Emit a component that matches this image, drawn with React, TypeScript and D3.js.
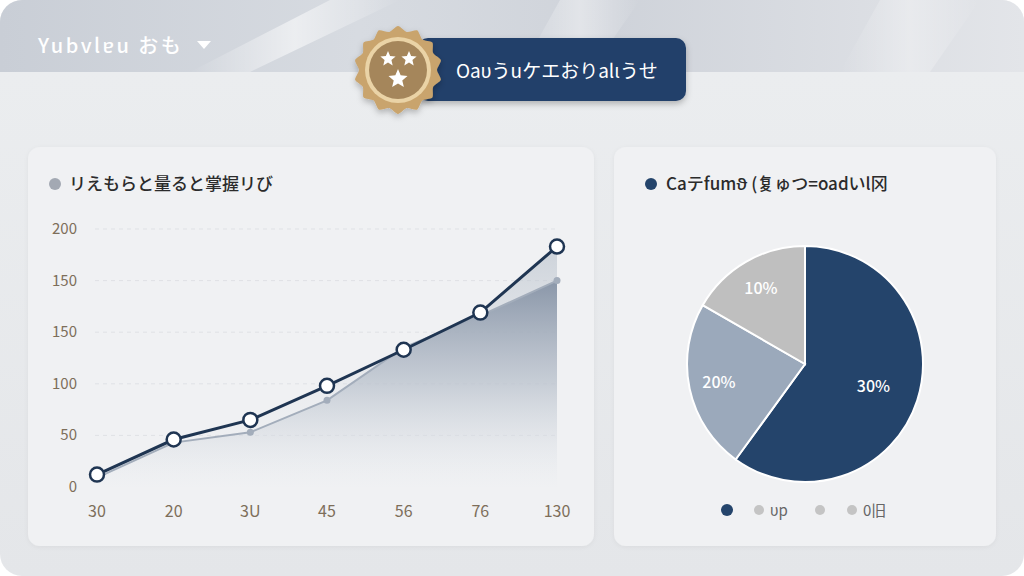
import React from "react";
import * as d3 from "d3";

const xLabels = ["30", "20", "3U", "45", "56", "76", "130"];
const mainValues = [12, 46, 65, 98, 133, 169, 233];
const areaValues = [9, 43, 53, 84, 135, 166, 200];
const yTicks = [0, 50, 100, 150, 200, 250];
const yTickLabels = ["0", "50", "100", "150", "150", "200"];
const pieValues = [60, 23.3, 16.7];
const pieLabels = ["30%", "20%", "10%"];
const pieColors = ["#24446b", "#9ba9bb", "#bfbfbf"];
const legendLabels = ["", "υp", "", "0旧"];
const legendColors = ["#24446b", "#c4c4c4", "#c4c4c4", "#c4c4c4"];

const FONT = "'Noto Sans CJK JP', 'Noto Sans', sans-serif";

function starPath(cx: number, cy: number, r: number) {
  const pts: [number, number][] = [];
  for (let i = 0; i < 10; i++) {
    const rr = i % 2 === 0 ? r : r * 0.45;
    const a = (Math.PI / 5) * i - Math.PI / 2;
    pts.push([cx + rr * Math.cos(a), cy + rr * Math.sin(a)]);
  }
  return "M" + pts.map((p) => p.join(",")).join("L") + "Z";
}

function sealPath(cx: number, cy: number, r1: number, r2: number, n: number) {
  const pts: [number, number][] = [];
  for (let i = 0; i < n * 2; i++) {
    const rr = i % 2 === 0 ? r1 : r2;
    const a = (Math.PI / n) * i - Math.PI / 2;
    pts.push([cx + rr * Math.cos(a), cy + rr * Math.sin(a)]);
  }
  return d3.line().curve(d3.curveCardinalClosed.tension(0.3))(pts) || "";
}

export default function App() {
  const x = d3.scalePoint<number>().domain(d3.range(xLabels.length)).range([97, 557]);
  const y = d3.scaleLinear().domain([0, 250]).range([487, 229]);

  const line = d3.line<number>().x((_, i) => x(i) as number).y((d) => y(d));
  const area = d3
    .area<number>()
    .x((_, i) => x(i) as number)
    .y0(y(0))
    .y1((d) => y(d));

  const cx = 805, cy = 364, R = 118;
  const pie = d3.pie<number>().sort(null).value((d) => d)(pieValues);
  const arc = d3.arc<d3.PieArcDatum<number>>().innerRadius(0).outerRadius(R);

  return (
    <svg width={1024} height={576} style={{ position: "absolute", left: 0, top: 0 }}>
      <defs>
        <linearGradient id="hdr" x1="0" y1="0" x2="1" y2="0">
          <stop offset="0" stopColor="#c9ced6" />
          <stop offset="0.35" stopColor="#d7dbe1" />
          <stop offset="0.6" stopColor="#cfd3da" />
          <stop offset="1" stopColor="#e3e5e9" />
        </linearGradient>
        <linearGradient id="body" x1="0" y1="0" x2="0" y2="1">
          <stop offset="0" stopColor="#eceef0" />
          <stop offset="1" stopColor="#e4e6e9" />
        </linearGradient>
        <linearGradient id="areaG" x1="0" y1="0" x2="0" y2="1">
          <stop offset="0" stopColor="#8693a6" stopOpacity="0.95" />
          <stop offset="0.5" stopColor="#b9c1cc" stopOpacity="0.7" />
          <stop offset="1" stopColor="#eef0f3" stopOpacity="0.2" />
        </linearGradient>
        <linearGradient id="areaG2" x1="0" y1="0" x2="0" y2="1">
          <stop offset="0" stopColor="#b5bec9" stopOpacity="0.6" />
          <stop offset="1" stopColor="#eef0f3" stopOpacity="0" />
        </linearGradient>
        <linearGradient id="streak" x1="0" y1="0" x2="1" y2="0">
          <stop offset="0" stopColor="#ffffff" stopOpacity="0" />
          <stop offset="0.5" stopColor="#ffffff" stopOpacity="0.55" />
          <stop offset="1" stopColor="#ffffff" stopOpacity="0" />
        </linearGradient>
        <filter id="sh" x="-20%" y="-20%" width="140%" height="160%">
          <feDropShadow dx="0" dy="3" stdDeviation="3" floodColor="#000" floodOpacity="0.25" />
        </filter>
        <filter id="soft" x="-10%" y="-10%" width="120%" height="120%">
          <feDropShadow dx="0" dy="1" stdDeviation="2" floodColor="#000" floodOpacity="0.05" />
        </filter>
        <clipPath id="card">
          <rect x={0} y={0} width={1024} height={576} rx={22} />
        </clipPath>
      </defs>

      <rect x={0} y={0} width={1024} height={576} fill="#ffffff" />
      <g clipPath="url(#card)">
        <rect x={0} y={0} width={1024} height={576} fill="url(#body)" />
        <rect x={0} y={0} width={1024} height={72} fill="url(#hdr)" />
        <polygon points="330,0 400,0 250,72 190,72" fill="url(#streak)" />
        <polygon points="560,0 640,0 590,72 520,72" fill="url(#streak)" opacity={0.7} />
        <polygon points="880,0 980,0 930,72 840,72" fill="url(#streak)" opacity={0.6} />
      </g>

      <text
        x={38}
        y={53}
        fill="#ffffff"
        fontFamily={FONT}
        fontSize={20}
        fontWeight={500}
        letterSpacing={2.5}
      >
        Yubvlɐu おも
      </text>
      <path d="M197,41 L211,41 L204,49 Z" fill="#ffffff" />

      {/* pill */}
      <rect x={418} y={38} width={268} height={63} rx={10} fill="#22406a" filter="url(#sh)" />
      <text x={456} y={78} fill="#ffffff" fontFamily={FONT} fontSize={19}>
        Oaυうuケエおりalιうせ
      </text>
      {/* badge */}
      <g filter="url(#sh)">
        <path d={sealPath(398, 70, 44, 39, 14)} fill="#c9a46d" />
      </g>
      <circle cx={398} cy={70} r={33} fill="#ead3a6" />
      <circle cx={398} cy={70} r={29} fill="#a5865b" />
      <path d={starPath(388, 59, 8)} fill="#ffffff" />
      <path d={starPath(409, 59, 8)} fill="#ffffff" />
      <path d={starPath(398, 79, 10)} fill="#ffffff" />

      {/* left panel */}
      <rect x={28} y={147} width={566} height={399} rx={12} fill="#f0f1f3" filter="url(#soft)" />
      <circle cx={55} cy={184} r={6} fill="#a3a9b3" />
      <text x={69} y={190} fill="#2b2b2b" fontFamily={FONT} fontSize={17} fontWeight={500}>
        リえもらと量ると掌握リび
      </text>

      {yTicks.map((t, i) => (
        <g key={"y" + i}>
          {i > 0 && (
            <line x1={95} x2={557} y1={y(t)} y2={y(t)} stroke="#dfe1e5" strokeDasharray="4,4" />
          )}
          <text
            x={77}
            y={y(t) + 5}
            textAnchor="end"
            fill="#7d6e5a"
            fontFamily={FONT}
            fontSize={15}
          >
            {yTickLabels[i]}
          </text>
        </g>
      ))}
      {xLabels.map((l, i) => (
        <text
          key={"x" + i}
          x={x(i) as number}
          y={517}
          textAnchor="middle"
          fill="#7d6e5a"
          fontFamily={FONT}
          fontSize={16}
        >
          {l}
        </text>
      ))}

      <path d={area(mainValues) || ""} fill="url(#areaG2)" />
      <path d={area(areaValues) || ""} fill="url(#areaG)" />
      <path d={line(areaValues) || ""} fill="none" stroke="#a3adbb" strokeWidth={2} />
      {areaValues.map((v, i) => (
        <circle key={"a" + i} cx={x(i) as number} cy={y(v)} r={3.5} fill="#a3adbb" />
      ))}
      <path d={line(mainValues) || ""} fill="none" stroke="#1f3552" strokeWidth={3} />
      {mainValues.map((v, i) => (
        <circle
          key={"m" + i}
          cx={x(i) as number}
          cy={y(v)}
          r={7}
          fill="#ffffff"
          stroke="#1f3552"
          strokeWidth={2.5}
        />
      ))}

      {/* right panel */}
      <rect x={614} y={147} width={382} height={399} rx={12} fill="#f0f1f3" filter="url(#soft)" />
      <circle cx={651} cy={184} r={6} fill="#24446b" />
      <text x={666} y={190} fill="#2b2b2b" fontFamily={FONT} fontSize={17} fontWeight={500}>
        Caテfumϑ (复ゅつ=oadいl冈
      </text>

      <g transform={`translate(${cx},${cy})`}>
        {pie.map((p, i) => (
          <path key={"p" + i} d={arc(p) || ""} fill={pieColors[i]} stroke="#ffffff" strokeWidth={2} />
        ))}
        {pie.map((p, i) => {
          const lr = i === 0 ? 72 : 88;
          const c = d3.arc<d3.PieArcDatum<number>>().innerRadius(lr).outerRadius(lr).centroid(p);
          return (
            <text
              key={"pl" + i}
              x={c[0]}
              y={c[1] + 6}
              textAnchor="middle"
              fill="#ffffff"
              fontFamily={FONT}
              fontSize={16}
              fontWeight={500}
            >
              {pieLabels[i]}
            </text>
          );
        })}
      </g>

      {legendLabels.map((l, i) => {
        const lx = [727, 759, 820, 852][i];
        return (
          <g key={"l" + i}>
            <circle cx={lx} cy={510} r={i === 0 ? 6 : 5} fill={legendColors[i]} />
            {l && (
              <text x={lx + 11} y={516} fill="#666" fontFamily={FONT} fontSize={15}>
                {l}
              </text>
            )}
          </g>
        );
      })}
    </svg>
  );
}
